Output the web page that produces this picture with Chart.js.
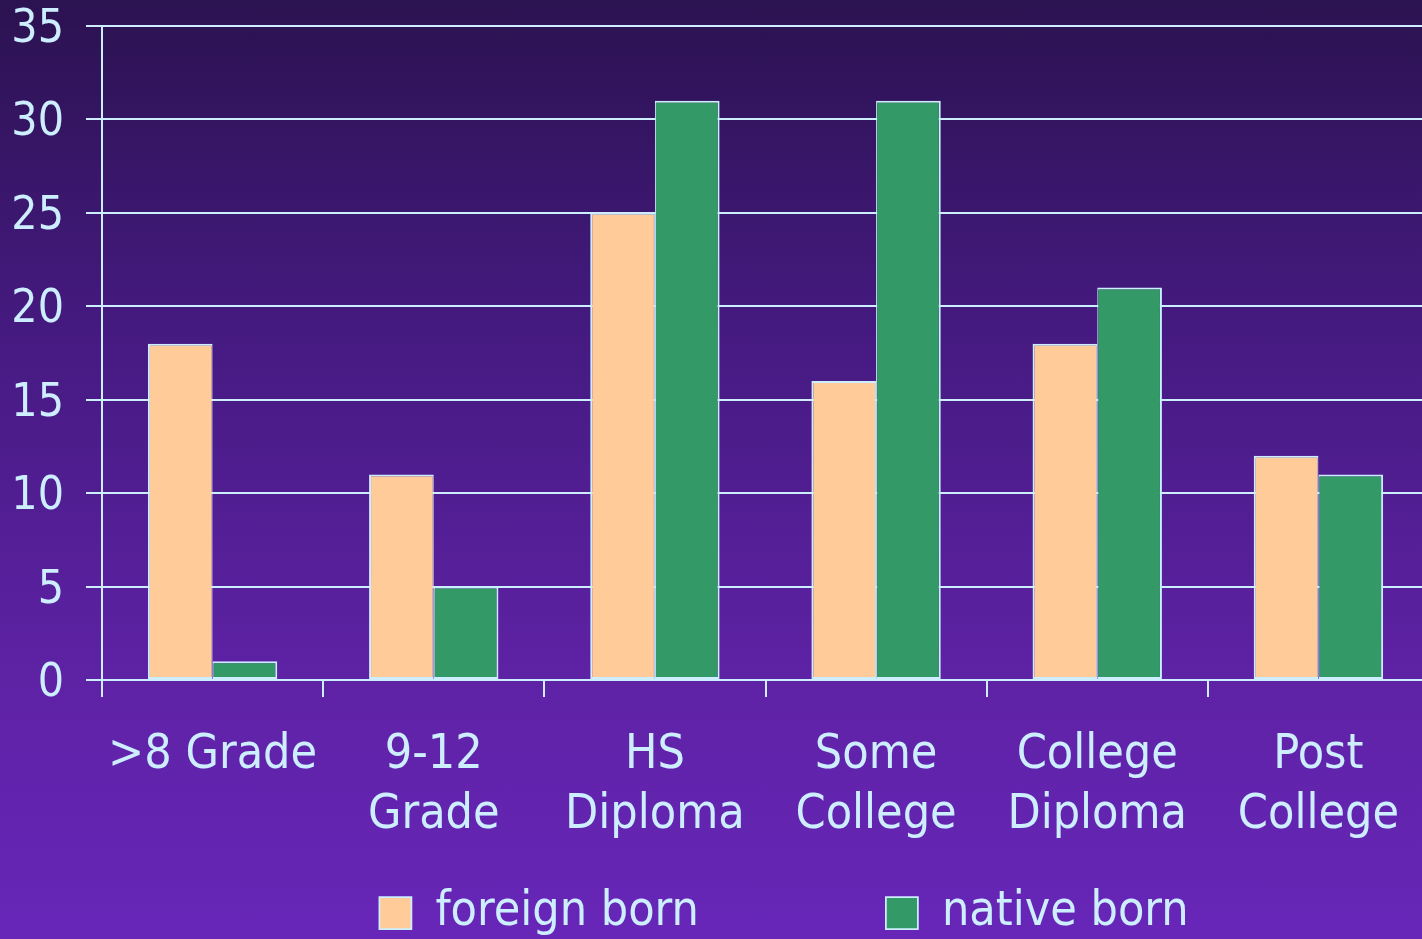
<!DOCTYPE html>
<html>
<head>
<meta charset="utf-8">
<script src="https://cdn.jsdelivr.net/npm/chart.js@4.4.1/dist/chart.umd.min.js"></script>
<style>
    html, body {
        margin: 0;
        padding: 0;
        width: 1422px;
        height: 939px;
        overflow: hidden;
        background: linear-gradient(to bottom, #2b1250 0%, #451a80 35%, #5e22a5 72%, #6726b8 100%);
    }
    canvas { display: block; }
</style>
</head>
<body>
<canvas id="eduChart" width="1568" height="947"></canvas>
<script>
const categories = [['>8 Grade'], ['9-12', 'Grade'], ['HS', 'Diploma'], ['Some', 'College'], ['College', 'Diploma'], ['Post', 'College']];
const foreignBorn = [18, 11, 25, 16, 18, 12];
const nativeBorn = [1, 5, 31, 31, 21, 11];
const yTicks = [0, 5, 10, 15, 20, 25, 30, 35];

const lineColor = '#cdeeff';
const fontFamily = '"DejaVu Sans Condensed", "Liberation Sans", sans-serif';

let ctx = document.getElementById('eduChart').getContext('2d');
let eduChart = new Chart(ctx, {
    type: 'bar',
    data: {
        labels: categories,
        datasets: [
            {
                label: 'foreign born',
                data: foreignBorn,
                backgroundColor: '#ffcc99',
                borderColor: lineColor,
                // thinner inner edge so the two bars share one line
                borderWidth: { top: 2, left: 2, right: 1, bottom: 2 },
                borderSkipped: false,
            },
            {
                label: 'native born',
                data: nativeBorn,
                backgroundColor: '#339966',
                borderColor: lineColor,
                borderWidth: { top: 2, left: 1, right: 2, bottom: 2 },
                borderSkipped: false,
            }
        ]
    },
    options: {
        responsive: false,
        animation: false,
        categoryPercentage: 0.585,
        barPercentage: 1,
        layout: {
            padding: { top: 26, left: 0, right: 0, bottom: 0 }
        },
        scales: {
            x: {
                grid: {
                    offset: true,
                    drawOnChartArea: false,
                    drawTicks: true,
                    tickLength: 17,
                    color: lineColor,
                    lineWidth: 2,
                },
                border: { color: lineColor, width: 2 },
                ticks: {
                    color: lineColor,
                    // mirrored labels are not clipped to the (short) axis box,
                    // so they can sit in the space above the legend row
                    mirror: true,
                    padding: -106,
                    maxRotation: 0,
                    autoSkip: false,
                    font: { family: fontFamily, size: 48, lineHeight: 1.25 }
                },
                afterFit: (scale) => { scale.height = 22; }
            },
            y: {
                min: 0,
                max: 35,
                afterBuildTicks: (scale) => { scale.ticks = yTicks.map(v => ({ value: v })); },
                grid: {
                    color: lineColor,
                    lineWidth: 2,
                    tickLength: 16,
                },
                border: { color: lineColor, width: 2 },
                ticks: {
                    color: lineColor,
                    padding: 22,
                    labelOffset: 4,
                    font: { family: fontFamily, size: 46 }
                },
                afterFit: (scale) => {
                    scale.width = 102;
                    scale.paddingTop = 0;
                    scale.paddingBottom = 0;
                }
            },
            // empty right-hand axis: keeps the plot right edge where the slide had it
            spacer: {
                type: 'linear',
                position: 'right',
                grid: { display: false },
                border: { display: false },
                ticks: { display: false },
                afterFit: (scale) => { scale.width = 139; }
            }
        },
        plugins: {
            legend: {
                position: 'bottom',
                labels: {
                    color: lineColor,
                    boxWidth: 32,
                    boxHeight: 32,
                    padding: 187,
                    font: { family: fontFamily, size: 48 }
                }
            },
            tooltip: { enabled: false }
        }
    }
});
</script>
</body>
</html>
